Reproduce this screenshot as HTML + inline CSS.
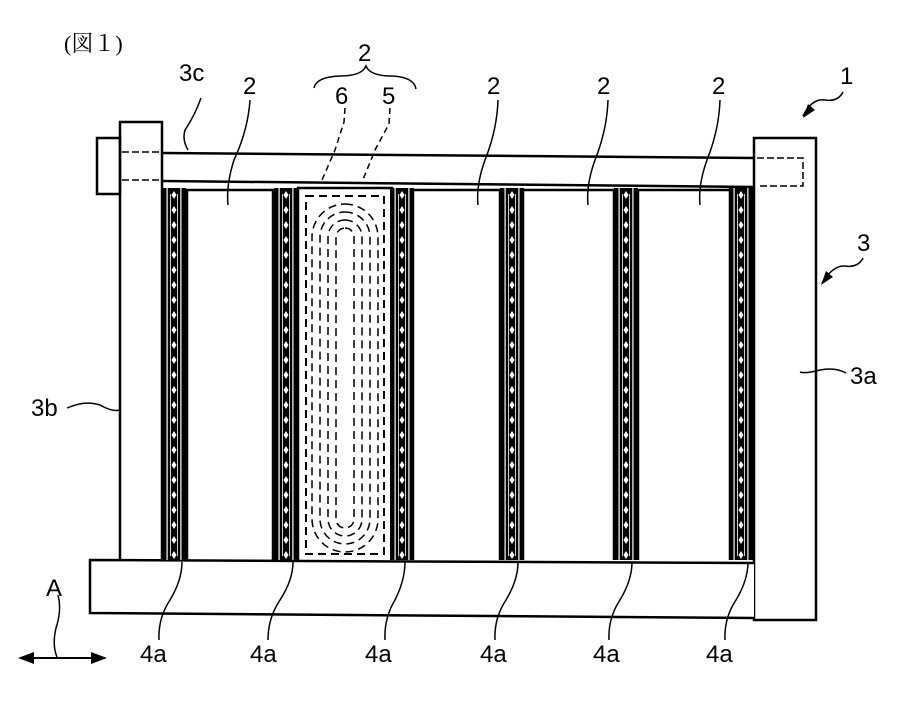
<!DOCTYPE html>
<html><head><meta charset="utf-8"><style>html,body{margin:0;padding:0;background:#fff}svg{display:block}</style></head>
<body>
<svg width="908" height="701" viewBox="0 0 908 701" xmlns="http://www.w3.org/2000/svg" font-family="Liberation Sans, sans-serif" fill="none" stroke="#000">
<defs>
<pattern id="dots" x="0" y="0" width="24" height="15" patternUnits="userSpaceOnUse">
<path d="M12 3 L14.5 7 L12 11 L9.5 7 Z" fill="#fff" stroke="none"/>
</pattern>
<g id="sep">
<rect x="0" y="0" width="24" height="372" fill="#000" stroke="none"/>
<rect x="4.5" y="0" width="1.2" height="372" fill="#fff" stroke="none"/>
<rect x="18.3" y="0" width="1.2" height="372" fill="#fff" stroke="none"/>
<rect x="8" y="6" width="0.8" height="362" fill="#fff" stroke="none"/>
<rect x="15.2" y="6" width="0.8" height="362" fill="#fff" stroke="none"/>
<rect x="0" y="0" width="24" height="372" fill="url(#dots)" stroke="none"/>
</g>
</defs>
<text x="64" y="51" font-size="22" fill="#000" stroke="none" font-family="Liberation Serif, Noto Serif CJK SC, serif">(図１)</text>

<path d="M97 138 H120 V194 H97 Z" stroke-width="2.5" fill="#fff"/>
<path d="M162 153 L755 158" stroke-width="2.5"/>
<path d="M162 181 L755 187" stroke-width="2.5"/>
<path d="M122 152 H162 M122 180 H162" stroke-width="1.5" stroke-dasharray="7,3"/>
<path d="M757 158 H803 V186 H757" stroke-width="1.5" stroke-dasharray="7,3"/>
<rect x="120" y="122" width="42" height="440" stroke-width="2.5" fill="none"/>
<rect x="754" y="138" width="62" height="482" stroke-width="2.5" fill="none"/>
<path d="M754 563 L90 560 V613 L754 618" stroke-width="2.5" fill="#fff"/>

<g stroke-width="2.5">
<path d="M187 560 V190 H273 V560"/>
<path d="M298 560 V188 H392 V560"/>
<path d="M413 560 V190 H500 V560"/>
<path d="M523 560 V190 H614 V560"/>
<path d="M638 560 V190 H730 V560"/>
</g>
<use href="#sep" x="162" y="188"/>
<use href="#sep" x="274" y="188"/>
<use href="#sep" x="390" y="188"/>
<use href="#sep" x="500" y="188"/>
<use href="#sep" x="614" y="188"/>
<use href="#sep" x="729" y="188"/>

<g stroke-width="1.5" stroke-dasharray="8,5">
<rect x="306" y="196" width="78" height="358" stroke-width="2"/>
<rect x="312" y="204" width="66" height="348" rx="33"/>
<rect x="320" y="212" width="50" height="332" rx="25"/>
<rect x="328" y="220" width="34" height="316" rx="17"/>
<rect x="336" y="228" width="18" height="300" rx="9"/>
</g>

<g stroke-width="1.5">
<path d="M201 98 Q195 115 185 130 Q182 140 188 150"/>
<path d="M250 100 Q248 130 234 160 Q226 185 228 205"/>
<path d="M345 108 L344 122 L335 150 L322 180" stroke-dasharray="6,4"/>
<path d="M390 108 L389 124 L375 150 L362 182" stroke-dasharray="6,4"/>
<path d="M314 88 Q316 77 340 76 Q362 76 366 66 Q370 76 392 76 Q414 77 416 89"/>
<path d="M498 100 Q497 130 485 160 Q476 185 478 205"/>
<path d="M608 100 Q607 130 595 160 Q586 185 588 205"/>
<path d="M720 100 Q719 130 707 160 Q698 185 700 205"/>
<path d="M843 92 Q838 102 825 100 Q812 98 803 116"/>
<path d="M863 258 Q858 268 845 266 Q833 265 822 283"/>
<path d="M846 373 Q835 367 820 370 Q805 374 800 372"/>
<path d="M67 408 Q85 400 100 405 Q112 412 120 410"/>
<path d="M182 562 Q182 580 170 600 Q158 618 159 640"/>
<path d="M293 562 Q293 580 280 600 Q268 618 268 640"/>
<path d="M405 562 Q405 580 395 600 Q384 618 385 640"/>
<path d="M518 562 Q518 580 506 600 Q494 618 495 640"/>
<path d="M632 562 Q632 580 620 600 Q608 618 609 640"/>
<path d="M748 562 Q748 580 736 600 Q724 618 725 640"/>
<path d="M58 595 Q62 610 56 628 Q52 645 57 657"/>
<path d="M26 658 H100" stroke-width="2"/>
</g>
<path d="M18 658 L34 652 L34 664 Z" fill="#000" stroke="none"/>
<path d="M107 658 L91 652 L91 664 Z" fill="#000" stroke="none"/>
<path d="M803 118 L808 104 L815 110 Z" fill="#000" stroke="none"/>
<path d="M821 285 L826 271 L833 277 Z" fill="#000" stroke="none"/>

<g font-size="24" fill="#000" stroke="none">
<text x="179" y="81">3c</text>
<text x="243" y="94">2</text>
<text x="358" y="61">2</text>
<text x="335" y="104">6</text>
<text x="382" y="104">5</text>
<text x="487" y="94">2</text>
<text x="597" y="94">2</text>
<text x="712" y="94">2</text>
<text x="840" y="84">1</text>
<text x="857" y="251">3</text>
<text x="850" y="384">3a</text>
<text x="31" y="416">3b</text>
<text x="46" y="596">A</text>
<text x="140" y="662">4a</text>
<text x="250" y="662">4a</text>
<text x="365" y="662">4a</text>
<text x="480" y="662">4a</text>
<text x="593" y="662">4a</text>
<text x="706" y="662">4a</text>
</g>
</svg>
</body></html>
